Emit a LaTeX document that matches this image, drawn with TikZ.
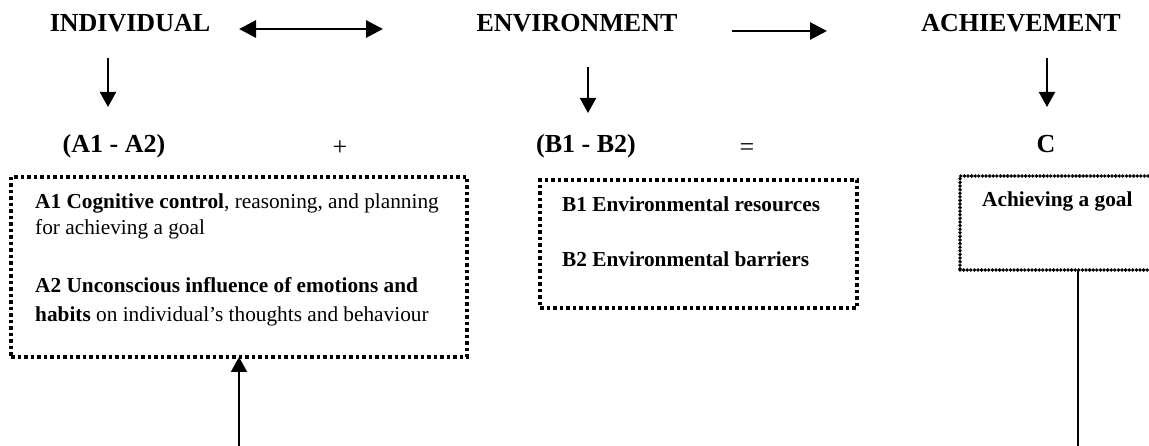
\documentclass[tikz,border=0pt]{standalone}
\usepackage{fontspec}
\setmainfont{Liberation Serif}
\usetikzlibrary{arrows.meta}
\begin{document}
\begin{tikzpicture}[x=1pt,y=-1pt,
  head/.style={font=\fontsize{26}{30}\selectfont\bfseries, inner sep=0pt, anchor=base},
  sym/.style={font=\fontsize{26}{30}\selectfont, inner sep=0pt, anchor=base},
  body/.style={font=\fontsize{21.3}{25}\selectfont, inner sep=0pt, anchor=base west},
  dotbox/.style={draw, line width=3.5pt, dash pattern=on 3.5pt off 3pt, inner sep=0pt, outer sep=0pt, anchor=north west},
  finebox/.style={draw, line width=3.8pt, dash pattern=on 0pt off 3.6pt, line cap=round, inner sep=0pt, outer sep=0pt, anchor=north west},
  bigarrow/.style={line width=2.9pt, -{Triangle[length=17pt,width=17pt]}},
  bigdouble/.style={line width=2.9pt, {Triangle[length=17pt,width=17pt]}-{Triangle[length=17pt,width=17pt]}},
  downarrow/.style={line width=2pt, -{Triangle[length=15pt,width=16pt]}},
  plainline/.style={line width=1.6pt}
]
\useasboundingbox (0,0) rectangle (1149,446);

% headings
\node[head] (ind) at (130,32) {INDIVIDUAL};
\node[head] (env) at (577,32) {ENVIRONMENT};
\node[head] (ach) at (1021,32) {ACHIEVEMENT};

% arrows between headings
\coordinate (dl) at (239,29);
\coordinate (dr) at (383,29);
\draw[bigdouble] (dl) -- (dr);
\coordinate (rl) at (732,31);
\coordinate (rr) at (827,31);
\draw[bigarrow] (rl) -- (rr);

% formula row
\node[head] (aa) at (114,153) {(A1 - A2)};
\node[sym] (plus) at (340,156) {+};
\node[head] (bb) at (586,153) {(B1 - B2)};
\node[sym] (eq) at (747,156) {=};
\node[head] (cc) at (1046,153) {C};

% down arrows
\coordinate (ia) at (108,58);
\coordinate (ib) at (108,107);
\draw[downarrow] (ia) -- (ib);
\coordinate (ea) at (588,67);
\coordinate (eb) at (588,113);
\draw[downarrow] (ea) -- (eb);
\coordinate (ca) at (1047,58);
\coordinate (cb) at (1047,107);
\draw[downarrow] (ca) -- (cb);

% boxes
\node[dotbox, minimum width=456pt, minimum height=180pt] (boxA) at (11,177) {};
\node[dotbox, minimum width=317pt, minimum height=128pt] (boxB) at (540,180) {};
\node[finebox, minimum width=236pt, minimum height=94pt] (boxC) at (960,176) {};

% box A text
\node[body] (a1) at (35,209) {\textbf{A1 Cognitive control}, reasoning, and planning};
\node[body] (a1b) at (35,235) {for achieving a goal};
\node[body] (a2) at (35,293) {\textbf{A2 Unconscious influence of emotions and}};
\node[body] (a2b) at (35,322) {\textbf{habits} on individual’s thoughts and behaviour};

% box B text
\node[body] (b1) at (562,212) {\textbf{B1 Environmental resources}};
\node[body] (b2) at (562,267) {\textbf{B2 Environmental barriers}};

% box C text
\node[body] (c1) at (982,207) {\textbf{Achieving a goal}};

% bottom connectors
\coordinate (upfoot) at (239,446);
\draw[downarrow] (upfoot) -- (boxA.south);
\coordinate (cfoot) at (1078,446);
\draw[plainline] (boxC.south) -- (cfoot);
\end{tikzpicture}
\end{document}
